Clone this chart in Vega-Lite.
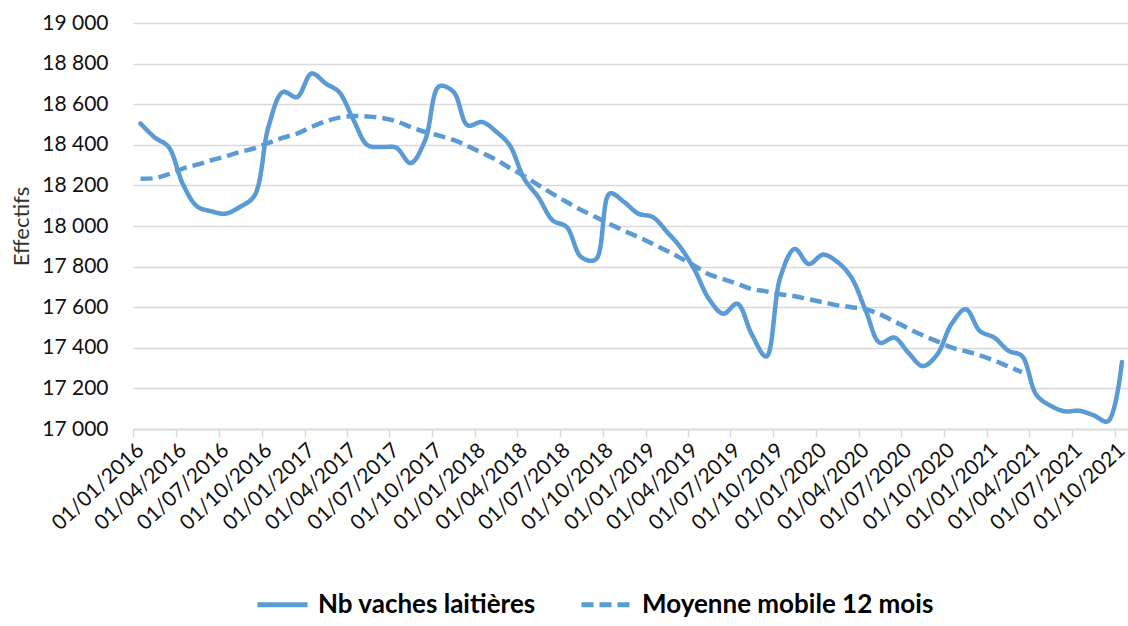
{
  "$schema": "https://vega.github.io/schema/vega-lite/v6.json",
  "width": 995,
  "height": 406,
  "autosize": {"type": "none"},
  "padding": {"left": 133, "top": 23, "right": 0, "bottom": 197},
  "background": "white",
  "config": {"view": {"stroke": null}, "font": "Lato"},
  "datasets": {
    "vaches": [
      {"date": "2016-01-01", "value": 18505}, {"date": "2016-02-01", "value": 18435}, {"date": "2016-03-01", "value": 18390},
      {"date": "2016-04-01", "value": 18205}, {"date": "2016-05-01", "value": 18097}, {"date": "2016-06-01", "value": 18072},
      {"date": "2016-07-01", "value": 18061}, {"date": "2016-08-01", "value": 18094}, {"date": "2016-09-01", "value": 18150},
      {"date": "2016-10-01", "value": 18490}, {"date": "2016-11-01", "value": 18660}, {"date": "2016-12-01", "value": 18635},
      {"date": "2017-01-01", "value": 18751}, {"date": "2017-02-01", "value": 18701}, {"date": "2017-03-01", "value": 18660},
      {"date": "2017-04-01", "value": 18521}, {"date": "2017-05-01", "value": 18398}, {"date": "2017-06-01", "value": 18389},
      {"date": "2017-07-01", "value": 18386}, {"date": "2017-08-01", "value": 18310}, {"date": "2017-09-01", "value": 18422},
      {"date": "2017-10-01", "value": 18688}, {"date": "2017-11-01", "value": 18660}, {"date": "2017-12-01", "value": 18496},
      {"date": "2018-01-01", "value": 18512}, {"date": "2018-02-01", "value": 18463}, {"date": "2018-03-01", "value": 18398},
      {"date": "2018-04-01", "value": 18233}, {"date": "2018-05-01", "value": 18143}, {"date": "2018-06-01", "value": 18028},
      {"date": "2018-07-01", "value": 17995}, {"date": "2018-08-01", "value": 17847}, {"date": "2018-09-01", "value": 17835},
      {"date": "2018-10-01", "value": 18160}, {"date": "2018-11-01", "value": 18118}, {"date": "2018-12-01", "value": 18061},
      {"date": "2019-01-01", "value": 18044}, {"date": "2019-02-01", "value": 17970}, {"date": "2019-03-01", "value": 17896},
      {"date": "2019-04-01", "value": 17782}, {"date": "2019-05-01", "value": 17642}, {"date": "2019-06-01", "value": 17568},
      {"date": "2019-07-01", "value": 17617}, {"date": "2019-08-01", "value": 17466}, {"date": "2019-09-01", "value": 17357},
      {"date": "2019-10-01", "value": 17747}, {"date": "2019-11-01", "value": 17887}, {"date": "2019-12-01", "value": 17813},
      {"date": "2020-01-01", "value": 17859}, {"date": "2020-02-01", "value": 17821}, {"date": "2020-03-01", "value": 17747},
      {"date": "2020-04-01", "value": 17582}, {"date": "2020-05-01", "value": 17425}, {"date": "2020-06-01", "value": 17450},
      {"date": "2020-07-01", "value": 17376}, {"date": "2020-08-01", "value": 17310}, {"date": "2020-09-01", "value": 17368},
      {"date": "2020-10-01", "value": 17516}, {"date": "2020-11-01", "value": 17590}, {"date": "2020-12-01", "value": 17483},
      {"date": "2021-01-01", "value": 17450}, {"date": "2021-02-01", "value": 17384}, {"date": "2021-03-01", "value": 17360},
      {"date": "2021-04-01", "value": 17168}, {"date": "2021-05-01", "value": 17115}, {"date": "2021-06-01", "value": 17087},
      {"date": "2021-07-01", "value": 17090}, {"date": "2021-08-01", "value": 17068}, {"date": "2021-09-01", "value": 17038},
      {"date": "2021-10-01", "value": 17330}
    ],
    "moyenne": [
      {"date": "2016-01-01", "value": 18233}, {"date": "2016-02-01", "value": 18236}, {"date": "2016-03-01", "value": 18255},
      {"date": "2016-04-01", "value": 18283}, {"date": "2016-05-01", "value": 18302}, {"date": "2016-06-01", "value": 18324},
      {"date": "2016-07-01", "value": 18343}, {"date": "2016-08-01", "value": 18365}, {"date": "2016-09-01", "value": 18383},
      {"date": "2016-10-01", "value": 18409}, {"date": "2016-11-01", "value": 18435}, {"date": "2016-12-01", "value": 18455},
      {"date": "2017-01-01", "value": 18488}, {"date": "2017-02-01", "value": 18516}, {"date": "2017-03-01", "value": 18534},
      {"date": "2017-04-01", "value": 18542}, {"date": "2017-05-01", "value": 18540}, {"date": "2017-06-01", "value": 18532},
      {"date": "2017-07-01", "value": 18516}, {"date": "2017-08-01", "value": 18488}, {"date": "2017-09-01", "value": 18463},
      {"date": "2017-10-01", "value": 18445}, {"date": "2017-11-01", "value": 18424}, {"date": "2017-12-01", "value": 18394},
      {"date": "2018-01-01", "value": 18360}, {"date": "2018-02-01", "value": 18325}, {"date": "2018-03-01", "value": 18286},
      {"date": "2018-04-01", "value": 18246}, {"date": "2018-05-01", "value": 18202}, {"date": "2018-06-01", "value": 18158},
      {"date": "2018-07-01", "value": 18118}, {"date": "2018-08-01", "value": 18079}, {"date": "2018-09-01", "value": 18044},
      {"date": "2018-10-01", "value": 18010}, {"date": "2018-11-01", "value": 17976}, {"date": "2018-12-01", "value": 17946},
      {"date": "2019-01-01", "value": 17912}, {"date": "2019-02-01", "value": 17877}, {"date": "2019-03-01", "value": 17843},
      {"date": "2019-04-01", "value": 17803}, {"date": "2019-05-01", "value": 17762}, {"date": "2019-06-01", "value": 17738},
      {"date": "2019-07-01", "value": 17715}, {"date": "2019-08-01", "value": 17689}, {"date": "2019-09-01", "value": 17678},
      {"date": "2019-10-01", "value": 17664}, {"date": "2019-11-01", "value": 17654}, {"date": "2019-12-01", "value": 17639},
      {"date": "2020-01-01", "value": 17624}, {"date": "2020-02-01", "value": 17609}, {"date": "2020-03-01", "value": 17600},
      {"date": "2020-04-01", "value": 17590}, {"date": "2020-05-01", "value": 17565}, {"date": "2020-06-01", "value": 17530},
      {"date": "2020-07-01", "value": 17495}, {"date": "2020-08-01", "value": 17461}, {"date": "2020-09-01", "value": 17432},
      {"date": "2020-10-01", "value": 17402}, {"date": "2020-11-01", "value": 17383}, {"date": "2020-12-01", "value": 17363},
      {"date": "2021-01-01", "value": 17337}, {"date": "2021-02-01", "value": 17307}, {"date": "2021-03-01", "value": 17280}
    ]
  },
  "data": {"name": "vaches"},
  "layer": [
    {
      "data": {"name": "vaches"},
      "transform": [{"calculate": "'Nb vaches laitières'", "as": "series"}],
      "mark": {"type": "line", "color": "#5B9BD5", "strokeWidth": 4.5, "interpolate": "catmull-rom", "strokeCap": "round", "strokeJoin": "round"},
      "encoding": {
        "x": {"field": "date", "type": "temporal"},
        "y": {"field": "value", "type": "quantitative"},
        "strokeDash": {"field": "series", "type": "nominal"}
      }
    },
    {
      "data": {"name": "moyenne"},
      "transform": [{"calculate": "'Moyenne mobile 12 mois'", "as": "series"}],
      "mark": {"type": "line", "color": "#5B9BD5", "strokeWidth": 4.5, "interpolate": "catmull-rom"},
      "encoding": {
        "x": {"field": "date", "type": "temporal"},
        "y": {"field": "value", "type": "quantitative"},
        "strokeDash": {"field": "series", "type": "nominal"}
      }
    }
  ],
  "encoding": {
    "x": {
      "field": "date",
      "type": "temporal",
      "scale": {"type": "utc", "domain": [{"year": 2015, "month": 12, "date": 16, "utc": true}, {"year": 2021, "month": 10, "date": 14, "utc": true}]},
      "axis": {
        "title": null,
        "format": "%d/%m/%Y",
        "values": [
          {"year": 2016, "month": 1, "date": 1, "utc": true}, {"year": 2016, "month": 4, "date": 1, "utc": true}, {"year": 2016, "month": 7, "date": 1, "utc": true}, {"year": 2016, "month": 10, "date": 1, "utc": true},
          {"year": 2017, "month": 1, "date": 1, "utc": true}, {"year": 2017, "month": 4, "date": 1, "utc": true}, {"year": 2017, "month": 7, "date": 1, "utc": true}, {"year": 2017, "month": 10, "date": 1, "utc": true},
          {"year": 2018, "month": 1, "date": 1, "utc": true}, {"year": 2018, "month": 4, "date": 1, "utc": true}, {"year": 2018, "month": 7, "date": 1, "utc": true}, {"year": 2018, "month": 10, "date": 1, "utc": true},
          {"year": 2019, "month": 1, "date": 1, "utc": true}, {"year": 2019, "month": 4, "date": 1, "utc": true}, {"year": 2019, "month": 7, "date": 1, "utc": true}, {"year": 2019, "month": 10, "date": 1, "utc": true},
          {"year": 2020, "month": 1, "date": 1, "utc": true}, {"year": 2020, "month": 4, "date": 1, "utc": true}, {"year": 2020, "month": 7, "date": 1, "utc": true}, {"year": 2020, "month": 10, "date": 1, "utc": true},
          {"year": 2021, "month": 1, "date": 1, "utc": true}, {"year": 2021, "month": 4, "date": 1, "utc": true}, {"year": 2021, "month": 7, "date": 1, "utc": true}, {"year": 2021, "month": 10, "date": 1, "utc": true}
        ],
        "labelAngle": -43,
        "labelAlign": "right",
        "labelBaseline": "middle",
        "labelFontSize": 21,
        "labelColor": "#111111",
        "labelPadding": 10,
        "labelOverlap": false,
        "labelBound": false,
        "labelFlush": false,
        "tickOffset": -7,
        "labelOffset": 7,
        "tickSize": 8,
        "tickColor": "#d9d9d9",
        "tickWidth": 1.5,
        "domainColor": "#d9d9d9",
        "domainWidth": 1.5,
        "grid": false
      }
    },
    "y": {
      "field": "value",
      "type": "quantitative",
      "scale": {"domain": [17000, 19000], "nice": false, "zero": false},
      "axis": {
        "values": [17000, 17200, 17400, 17600, 17800, 18000, 18200, 18400, 18600, 18800, 19000],
        "labelExpr": "replace(format(datum.value, ','), ',', ' ')",
        "grid": true,
        "gridColor": "#d9d9d9",
        "gridWidth": 1.5,
        "domain": false,
        "ticks": false,
        "labelPadding": 25,
        "labelFontSize": 21,
        "labelColor": "#111111",
        "title": "Effectifs",
        "titleFontSize": 22,
        "titleFontWeight": "normal",
        "titleColor": "#333333",
        "titlePadding": 8
      }
    },
    "strokeDash": {
      "field": "series",
      "type": "nominal",
      "scale": {"domain": ["Nb vaches laitières", "Moyenne mobile 12 mois"], "range": [[1, 0], [12, 6]]},
      "legend": {
        "orient": "none",
        "legendX": 122,
        "legendY": 554,
        "direction": "horizontal",
        "title": null,
        "padding": 0,
        "labelFontSize": 26,
        "labelFontWeight": "bold",
        "labelColor": "#000000",
        "labelLimit": 0,
        "labelOffset": 8,
        "symbolType": "stroke",
        "symbolSize": 2500,
        "symbolStrokeWidth": 5,
        "symbolStrokeColor": "#5B9BD5",
        "columnPadding": 35
      }
    }
  }
}
